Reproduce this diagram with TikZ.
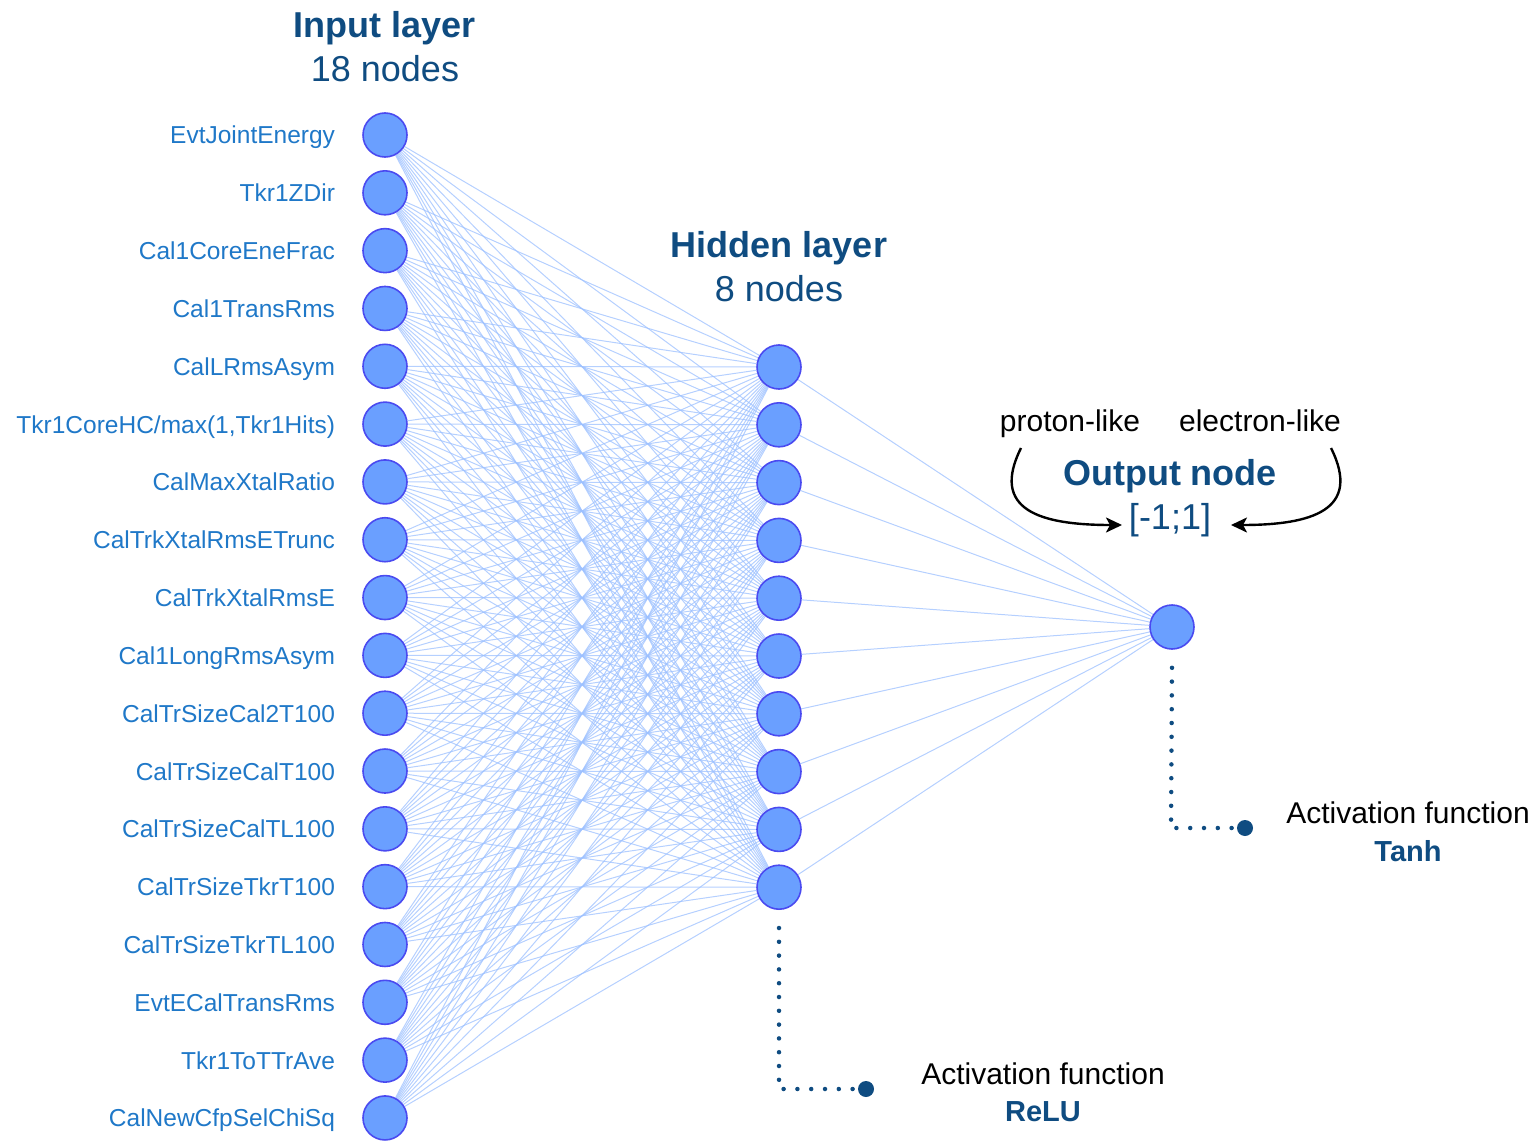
\documentclass[tikz,border=0pt]{standalone}
\usepackage{fontspec}
\setmainfont{Liberation Sans}
\usetikzlibrary{arrows.meta,backgrounds}
\definecolor{titleblue}{HTML}{0F4C81}
\definecolor{labelblue}{HTML}{1F78C8}
\definecolor{nodefill}{HTML}{6A9FFF}
\definecolor{nodeline}{HTML}{4A4AF0}
\definecolor{edgeblue}{HTML}{9CC0FF}
\begin{document}
\begin{tikzpicture}[x=1pt,y=-1pt,
  neuron/.style={circle, fill=nodefill, draw=nodeline, line width=1.6pt, minimum size=44pt, inner sep=0pt},
  link/.style={edgeblue, line width=1pt, opacity=0.75},
  varlabel/.style={anchor=base east, text=labelblue, font=\fontsize{24.5}{28}\selectfont, inner sep=0pt},
  layertitle/.style={anchor=base, text=titleblue, inner sep=0pt, font=\fontsize{36}{40}\selectfont\bfseries},
  layersub/.style={anchor=base, text=titleblue, inner sep=0pt, font=\fontsize{36}{40}\selectfont},
  plaintext/.style={anchor=base, inner sep=0pt, font=\fontsize{30}{34}\selectfont},
  fnname/.style={anchor=base, inner sep=0pt, text=titleblue, font=\fontsize{29}{34}\selectfont\bfseries},
  dotline/.style={titleblue, line width=4.5pt, line cap=round, dash pattern=on 0pt off 13.8pt},
  enddot/.style={circle, fill=titleblue, minimum size=16pt, inner sep=0pt},
  bendarrow/.style={line width=2.4pt, -{Stealth[length=16pt,width=15pt,inset=4pt]}}
]
\useasboundingbox (0,0) rectangle (1539,1142);

% input layer
\foreach \name [count=\i from 0] in {EvtJointEnergy, Tkr1ZDir, Cal1CoreEneFrac, Cal1TransRms,
    CalLRmsAsym, {Tkr1CoreHC/max(1,Tkr1Hits)}, CalMaxXtalRatio, CalTrkXtalRmsETrunc,
    CalTrkXtalRmsE, Cal1LongRmsAsym, CalTrSizeCal2T100, CalTrSizeCalT100,
    CalTrSizeCalTL100, CalTrSizeTkrT100, CalTrSizeTkrTL100, EvtECalTransRms,
    Tkr1ToTTrAve, CalNewCfpSelChiSq} {
  \node[neuron] (in\i) at (385, 135+57.82*\i) {};
  \node[varlabel] (lab\i) at ([xshift=-27pt, yshift=-9pt]in\i.west) {\name};
}

% hidden layer
\foreach \j in {0,...,9} {
  \node[neuron] (hid\j) at (779, 367+57.8*\j) {};
}

% output node
\node[neuron] (out) at (1172, 627) {};

% connections
\begin{scope}[on background layer]
  \foreach \i in {0,...,17} {
    \foreach \j in {0,...,9} {
      \draw[link] (in\i) -- (hid\j);
    }
  }
  \foreach \j in {0,...,9} {
    \draw[link] (hid\j) -- (out);
  }
\end{scope}

% layer titles
\node[layertitle] (tin) at (385, 38) {Input layer};
\node[layersub] (sin) at (385, 82) {18 nodes};
\node[layertitle] (thid) at (779, 257) {Hidden layer};
\node[layersub] (shid) at (779, 301) {8 nodes};
\node[layertitle] (tout) at (1170, 485) {Output node};
\node[layersub] (range) at (1170, 529) {[-1;1]};

% class labels and arrows
\node[plaintext] (proton) at (1070, 431) {proton-like};
\node[plaintext] (electron) at (1260, 431) {electron-like};
\coordinate (pstart) at (1021, 448);
\coordinate (pend) at (1122, 525);
\coordinate (estart) at (1331, 448);
\coordinate (eend) at (1231, 525);
\draw[bendarrow] (pstart) .. controls (990,510) and (1040,525) .. (pend);
\draw[bendarrow] (estart) .. controls (1362,510) and (1312,525) .. (eend);

% activation annotations
\node[enddot] (reludot) at (866, 1089) {};
\coordinate (relucorner) at (779, 1089);
\draw[dotline] ([yshift=-18pt]hid9.south) -- (relucorner) -- (reludot);
\node[plaintext] (reluact) at (1043, 1084) {Activation function};
\node[fnname] (reluname) at (1043, 1121) {ReLU};

\node[enddot] (tanhdot) at (1245, 828) {};
\coordinate (tanhcorner) at (1171, 828);
\draw[dotline] ([yshift=-18pt]out.south) -- (tanhcorner) -- (tanhdot);
\node[plaintext] (tanhact) at (1408, 823) {Activation function};
\node[fnname] (tanhname) at (1408, 861) {Tanh};
\end{tikzpicture}
\end{document}
